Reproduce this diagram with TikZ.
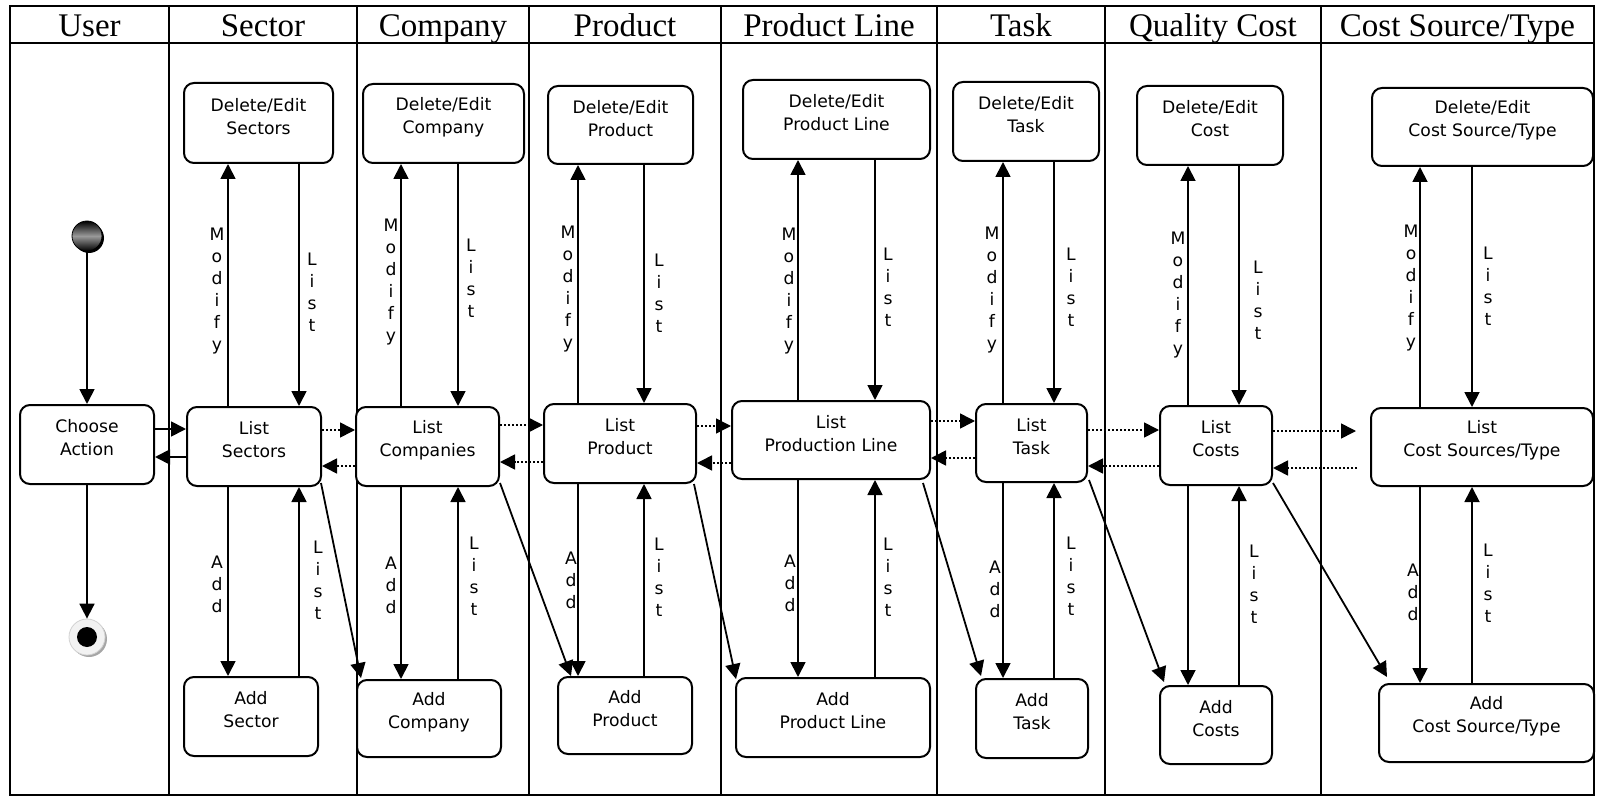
\documentclass[tikz,border=0pt]{standalone}
\usepackage{fontspec}
\setmainfont{Liberation Serif}
\newfontfamily\boxfont{DejaVu Sans}
\usetikzlibrary{arrows.meta,calc,fit,shadows}
\newcommand\vconn[6]{%
  \coordinate (xm#6) at (#4,0);
  \coordinate (xl#6) at (#5,0);
  \draw[arr] (xm#6 |- #2.north) -- (xm#6 |- #1.south);
  \draw[arr] (xl#6 |- #1.south) -- (xl#6 |- #2.north);
  \draw[arr] (xm#6 |- #2.south) -- (xm#6 |- #3.north);
  \draw[arr] (xl#6 |- #3.north) -- (xl#6 |- #2.south);
}
\begin{document}
\begin{tikzpicture}[x=0.5pt,y=-0.5pt,
  box/.style={draw, fill=white, line width=1pt, rounded corners=5pt, inner sep=0pt, align=center,
    font=\boxfont\fontsize{8.6}{11.5}\selectfont},
  arr/.style={line width=0.9pt, -{Triangle[length=7.5pt,width=7.5pt]}},
  darr/.style={line width=0.8pt, dash pattern=on 1pt off 1pt, -{Triangle[length=7.5pt,width=7.5pt]}},
  vlab/.style={inner sep=0pt, align=center, font=\boxfont\fontsize{8.6}{11}\selectfont},
  head/.style={anchor=base, font=\fontsize{16.5}{18}\selectfont},
  frame/.style={line width=1pt}]
\useasboundingbox (0,0) rectangle (1597,797);
% frame and swimlanes
\draw[frame] (10,6) rectangle (1594,795);
\draw[frame] (10,43) -- (1594,43);
\foreach \x in {169,357,529,721,937,1105,1321} \draw[frame] (\x,6) -- (\x,795);
% headers
\node[head] (h1) at (89.5,37) {User};
\node[head] (h2) at (263,37) {Sector};
\node[head] (h3) at (443,37) {Company};
\node[head] (h4) at (625,37) {Product};
\node[head] (h5) at (829,37) {Product Line};
\node[head] (h6) at (1021,37) {Task};
\node[head] (h7) at (1213,37) {Quality Cost};
\node[head] (h8) at (1457.5,37) {Cost Source/Type};
% user lane
\node[circle, minimum size=15pt, inner sep=0pt, draw=black, top color=black, bottom color=black, middle color=gray!80,
  drop shadow={shadow xshift=1pt, shadow yshift=-1pt, fill=black, opacity=1}] (st) at (87,236) {};
\node[box, fit={(20,405) (154,484)}] (ca) {Choose\\Action};
\node[circle, minimum size=18pt, inner sep=0pt, fill=gray!10, draw=gray!35,
  drop shadow={shadow xshift=1pt, shadow yshift=-1pt, fill=gray!70, opacity=1}] (en) at (87,637) {};
\fill (en.center) circle (10);
\draw[arr] (st) -- (ca);
\draw[arr] (ca) -- (en);
% boxes
\node[box, fit={(184,83) (333,163)}] (d1) {Delete/Edit\\Sectors};
\node[box, fit={(187,407) (321,486)}] (l1) {List\\Sectors};
\node[box, fit={(184,677) (318,756)}] (a1) {Add\\Sector};
\node[box, fit={(363,84) (524,163)}] (d2) {Delete/Edit\\Company};
\node[box, fit={(356,407) (499,486)}] (l2) {List\\Companies};
\node[box, fit={(357,680) (501,757)}] (a2) {Add\\Company};
\node[box, fit={(548,86) (693,164)}] (d3) {Delete/Edit\\Product};
\node[box, fit={(544,404) (696,483)}] (l3) {List\\Product};
\node[box, fit={(558,677) (692,754)}] (a3) {Add\\Product};
\node[box, fit={(743,80) (930,159)}] (d4) {Delete/Edit\\Product Line};
\node[box, fit={(732,401) (930,479)}] (l4) {List\\Production Line};
\node[box, fit={(736,678) (930,757)}] (a4) {Add\\Product Line};
\node[box, fit={(953,82) (1099,161)}] (d5) {Delete/Edit\\Task};
\node[box, fit={(976,404) (1087,482)}] (l5) {List\\Task};
\node[box, fit={(976,679) (1088,758)}] (a5) {Add\\Task};
\node[box, fit={(1137,86) (1283,165)}] (d6) {Delete/Edit\\Cost};
\node[box, fit={(1160,406) (1272,485)}] (l6) {List\\Costs};
\node[box, fit={(1160,686) (1272,764)}] (a6) {Add\\Costs};
\node[box, fit={(1372,88) (1593,166)}] (d7) {Delete/Edit\\Cost Source/Type};
\node[box, fit={(1371,408) (1593,486)}] (l7) {List\\Cost Sources/Type};
\node[box, fit={(1379,684) (1594,762)}] (a7) {Add\\Cost Source/Type};
% vertical connectors
\vconn{d1}{l1}{a1}{228}{299}{1}
\vconn{d2}{l2}{a2}{401}{458}{2}
\vconn{d3}{l3}{a3}{578}{644}{3}
\vconn{d4}{l4}{a4}{798}{875}{4}
\vconn{d5}{l5}{a5}{1003}{1054}{5}
\vconn{d6}{l6}{a6}{1188}{1239}{6}
\vconn{d7}{l7}{a7}{1420}{1472}{7}
% vertical labels
\node[vlab] (m1) at (217,291.5) {M\\o\\d\\i\\f\\y};
\node[vlab] (m2) at (391,282.5) {M\\o\\d\\i\\f\\y};
\node[vlab] (m3) at (568,289) {M\\o\\d\\i\\f\\y};
\node[vlab] (m4) at (789,291) {M\\o\\d\\i\\f\\y};
\node[vlab] (m5) at (992,290) {M\\o\\d\\i\\f\\y};
\node[vlab] (m6) at (1178,295) {M\\o\\d\\i\\f\\y};
\node[vlab] (m7) at (1411,288) {M\\o\\d\\i\\f\\y};
\node[vlab] (t1) at (312,292.5) {L\\i\\s\\t};
\node[vlab] (t2) at (471,278.5) {L\\i\\s\\t};
\node[vlab] (t3) at (659,293) {L\\i\\s\\t};
\node[vlab] (t4) at (888,287.5) {L\\i\\s\\t};
\node[vlab] (t5) at (1071,287.5) {L\\i\\s\\t};
\node[vlab] (t6) at (1258,300) {L\\i\\s\\t};
\node[vlab] (t7) at (1488,286.5) {L\\i\\s\\t};
\node[vlab] (p1) at (217,584.5) {A\\d\\d};
\node[vlab] (p2) at (391,585) {A\\d\\d};
\node[vlab] (p3) at (571,580.5) {A\\d\\d};
\node[vlab] (p4) at (790,583.5) {A\\d\\d};
\node[vlab] (p5) at (995,589.5) {A\\d\\d};
\node[vlab] (p7) at (1413,592.5) {A\\d\\d};
\node[vlab] (b1) at (318,580) {L\\i\\s\\t};
\node[vlab] (b2) at (474,576.5) {L\\i\\s\\t};
\node[vlab] (b3) at (659,577) {L\\i\\s\\t};
\node[vlab] (b4) at (888,577) {L\\i\\s\\t};
\node[vlab] (b5) at (1071,576.5) {L\\i\\s\\t};
\node[vlab] (b6) at (1254,584.5) {L\\i\\s\\t};
\node[vlab] (b7) at (1488,583.5) {L\\i\\s\\t};
% choose action <-> list sectors
\draw[arr] (ca.east |- 0,429) -- (l1.west |- 0,429);
\draw[arr] (l1.west |- 0,457) -- (ca.east |- 0,457);
% dotted navigation between lists
\draw[darr] (l1.east |- 0,430) -- (l2.west |- 0,430);
\draw[darr] (l2.west |- 0,466) -- (l1.east |- 0,466);
\draw[darr] (l2.east |- 0,425) -- (l3.west |- 0,425);
\draw[darr] (l3.west |- 0,462) -- (l2.east |- 0,462);
\draw[darr] (l3.east |- 0,426) -- (l4.west |- 0,426);
\draw[darr] (l4.west |- 0,463) -- (l3.east |- 0,463);
\draw[darr] (l4.east |- 0,421) -- (l5.west |- 0,421);
\draw[darr] (l5.west |- 0,458) -- (l4.east |- 0,458);
\draw[darr] (l5.east |- 0,430) -- (l6.west |- 0,430);
\draw[darr] (l6.west |- 0,466) -- (l5.east |- 0,466);
\draw[darr, shorten >=7pt] (l6.east |- 0,431) -- (l7.west |- 0,431);
\draw[darr, shorten <=6.5pt] (l7.west |- 0,468) -- (l6.east |- 0,468);
% diagonal arrows to next lane's add box
\draw[arr] ($(l1.south east)+(-1,-4)$) -- ($(a2.north west)+(5,-1)$);
\draw[arr] ($(l2.south east)+(0,-4)$) -- ($(a3.north west)+(14,0)$);
\draw[arr] ($(l3.south east)+(-3,0)$) -- ($(a4.north west)+(1,2)$);
\draw[arr] ($(l4.south east)+(-8,3)$) -- ($(a5.north west)+(6,-2)$);
\draw[arr] ($(l5.south east)+(1,-3)$) -- ($(a6.north west)+(5,-3)$);
\draw[arr] ($(l6.south east)+(0,-3)$) -- ($(a7.north west)+(9,-6)$);
\end{tikzpicture}
\end{document}
